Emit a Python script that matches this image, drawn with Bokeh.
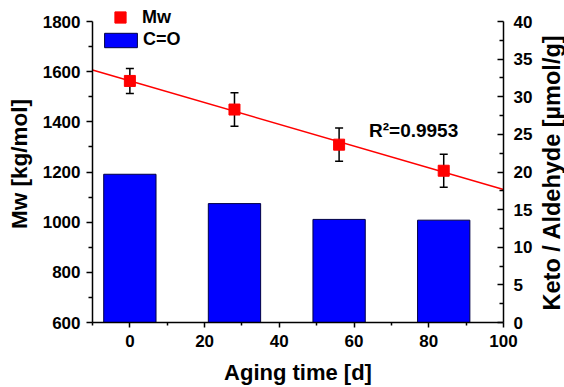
import numpy as np
from bokeh.plotting import figure
from bokeh.layouts import row
from bokeh.models import (Range1d, LinearAxis, FixedTicker, Whisker, TeeHead,
                          ColumnDataSource, Legend, LegendItem, Label)
from bokeh.embed import file_html
from bokeh.resources import INLINE

# ---- data ----
days = [0, 28, 56, 84]
mw = [1563, 1449, 1309, 1205]
mw_err = [50, 67, 66, 66]
carbonyl = [19.7, 15.8, 13.7, 13.6]
r2_text = "R²=0.9953"

x_major = [0, 20, 40, 60, 80, 100]
x_minor = [-10, 10, 30, 50, 70, 90]
y_major = [600, 800, 1000, 1200, 1400, 1600, 1800]
y_minor = [700, 900, 1100, 1300, 1500, 1700]
y2_major = [0, 5, 10, 15, 20, 25, 30, 35, 40]
y2_minor = [2.5, 7.5, 12.5, 17.5, 22.5, 27.5, 32.5, 37.5]

FONT = "Liberation Sans"
TICK_SIZE = "17px"
TITLE_SIZE = "22px"

# axis span 301 px; frame extended 16 px above the top tick for the legend
AX_PX = 301
EXTRA_PX = 16
y_top = 1800 + (1800 - 600) * EXTRA_PX / AX_PX
y2_top = 40 + 40 * EXTRA_PX / AX_PX

p = figure(frame_width=411, frame_height=AX_PX + EXTRA_PX,
           min_border_left=92, min_border_right=34,
           min_border_top=5, min_border_bottom=65,
           x_range=Range1d(-10, 100), y_range=Range1d(600, y_top),
           output_backend="svg", toolbar_location=None,
           x_axis_location=None, y_axis_location=None)
p.outline_line_color = None
p.xgrid.visible = False
p.ygrid.visible = False
p.background_fill_color = "white"
p.border_fill_color = "white"
p.extra_y_ranges = {"right": Range1d(0, y2_top)}

def style_axis(ax):
    ax.axis_line_width = 1.5
    ax.axis_line_color = "black"
    ax.major_tick_line_width = 1.5
    ax.minor_tick_line_width = 1.5
    ax.major_tick_line_color = "black"
    ax.minor_tick_line_color = "black"
    ax.major_label_text_font = FONT
    ax.major_label_text_font_style = "bold"
    ax.major_label_text_font_size = TICK_SIZE
    ax.major_label_text_color = "black"
    ax.axis_label_text_font = FONT
    ax.axis_label_text_font_style = "bold"
    ax.axis_label_text_font_size = TITLE_SIZE
    ax.axis_label_text_color = "black"

xaxis = LinearAxis(ticker=FixedTicker(ticks=x_major, minor_ticks=x_minor),
                   axis_label="Aging time [d]")
style_axis(xaxis)
xaxis.major_tick_out = 5
xaxis.major_tick_in = 0
xaxis.minor_tick_out = 3
xaxis.minor_tick_in = 0
xaxis.major_label_standoff = 7
xaxis.axis_label_standoff = 10
p.add_layout(xaxis, "below")

yaxis = LinearAxis(ticker=FixedTicker(ticks=y_major, minor_ticks=y_minor),
                   axis_label="Mw [kg/mol]", bounds=(600, 1800))
style_axis(yaxis)
yaxis.axis_label_text_font_size = "22.5px"
yaxis.major_tick_out = 6
yaxis.major_tick_in = 0
yaxis.minor_tick_out = 4
yaxis.minor_tick_in = 0
yaxis.major_label_standoff = 6
yaxis.axis_label_standoff = 8
p.add_layout(yaxis, "left")

y2axis = LinearAxis(y_range_name="right", bounds=(0, 40),
                    ticker=FixedTicker(ticks=y2_major, minor_ticks=y2_minor))
style_axis(y2axis)
y2axis.major_tick_out = 0
y2axis.major_tick_in = 6
y2axis.minor_tick_out = 0
y2axis.minor_tick_in = 4
y2axis.major_label_standoff = 10
p.add_layout(y2axis, "right")

# bars (C=O) on the right axis
bar_src = ColumnDataSource(dict(x=days, top=carbonyl))
bars = p.vbar(x="x", top="top", bottom=0, width=14, source=bar_src,
              y_range_name="right", fill_color="#0000FF",
              line_color="#000044", line_width=1)

# linear fit
coef = np.polyfit(days, mw, 1)
fit_x = [p.x_range.start, p.x_range.end]
fit_y = list(np.polyval(coef, fit_x))
p.line(fit_x, fit_y, line_color="#FF0000", line_width=1.5)

# error bars
err_src = ColumnDataSource(dict(
    x=days,
    upper=[m + e for m, e in zip(mw, mw_err)],
    lower=[m - e for m, e in zip(mw, mw_err)]))
wh = Whisker(base="x", upper="upper", lower="lower", source=err_src,
             line_color="black", line_width=1.5,
             upper_head=TeeHead(size=8, line_color="black", line_width=1.5),
             lower_head=TeeHead(size=8, line_color="black", line_width=1.5))
p.add_layout(wh)

pts = p.scatter(days, mw, marker="square", size=11,
                fill_color="#FF0000", line_color="#FF0000")

# R^2 annotation
p.add_layout(Label(x=64, y=1365, text=r2_text, text_font=FONT,
                   text_font_style="bold", text_font_size="19px",
                   text_baseline="middle", text_align="left",
                   text_color="black"))

def make_legend(renderer, label, loc, gw, gh, standoff):
    lg = Legend(items=[LegendItem(label=label, renderers=[renderer])],
                location=loc, glyph_width=gw, glyph_height=gh,
                label_standoff=standoff, label_height=gh,
                margin=0, padding=0, spacing=0,
                border_line_alpha=0, background_fill_alpha=0,
                label_text_font=FONT, label_text_font_style="bold",
                label_text_font_size="18px", label_text_color="black")
    p.add_layout(lg)

make_legend(pts, "Mw", (14, 291), 28, 28, 8)
make_legend(bars, "C=O", (8, 272), 41, 18, 2)

# narrow strip holding the right-axis title (reads bottom-to-top);
# its frame is aligned with the main frame (bottom edge at the x axis)
q = figure(width=27, height=387, min_border=0,
           min_border_left=0, min_border_right=0,
           min_border_top=0, min_border_bottom=0,
           x_range=Range1d(0, 1), y_range=Range1d(0, 1),
           output_backend="svg", toolbar_location=None,
           x_axis_location=None, y_axis_location=None)
q.outline_line_color = None
q.xgrid.visible = False
q.ygrid.visible = False
q.background_fill_color = "white"
q.border_fill_color = "white"
q.add_layout(Label(x=14, y=150, x_units="screen", y_units="screen",
                   text="Keto / Aldehyde [µmol/g]", angle=np.pi / 2,
                   text_font=FONT, text_font_style="bold",
                   text_font_size="23.5px", text_align="center",
                   text_baseline="middle", text_color="black"))

layout = row(p, q, spacing=0)
open("out.html", "w").write(file_html(layout, INLINE))
